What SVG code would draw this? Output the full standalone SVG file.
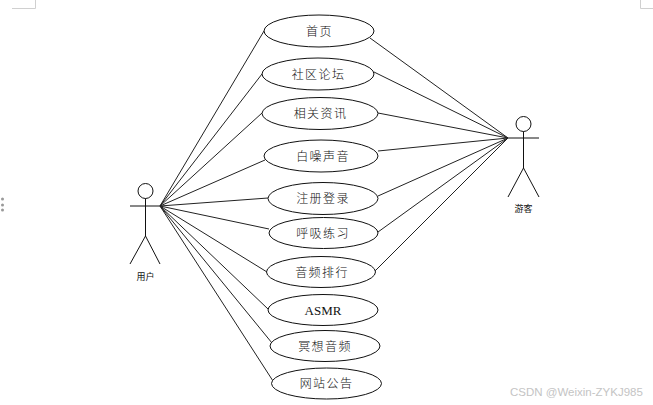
<svg xmlns="http://www.w3.org/2000/svg" width="653" height="405" viewBox="0 0 653 405">
<style>
.bg{fill:#fff}
.u ellipse{fill:#fff;stroke:#111;stroke-width:1}
.u text{font-family:"Noto Sans CJK SC","Liberation Sans",sans-serif;font-size:12px;font-weight:300;letter-spacing:1.4px;text-anchor:middle;fill:#111}
.u text.l{font-family:"Liberation Serif",serif;font-size:13px;font-weight:400;letter-spacing:0}
.a circle{fill:#fff;stroke:#111;stroke-width:1}
.a path{fill:none;stroke:#111;stroke-width:1}
.a text{font-family:"Noto Sans CJK SC","Liberation Sans",sans-serif;font-size:9px;text-anchor:middle;fill:#111}
#connectors path{fill:none;stroke:#222;stroke-width:1}
.m{fill:none;stroke:#d0d0d0;stroke-width:1}
.d{fill:#999}
.w{font-family:"Liberation Sans",sans-serif;font-size:11.5px;fill:#c4c4c4}
</style>
<rect class="bg" width="653" height="405"/>
<path class="m" d="M12 8.500H35.500V0M640.500 0V8.500H653"/>
<circle class="d" cx="2.500" cy="199" r="1.500"/><circle class="d" cx="2.500" cy="205" r="1.500"/><circle class="d" cx="2.500" cy="210" r="1.500"/>
<g id="connectors">
<path d="M160 206L264 31M160 206L262 74M160 206L262 113M160 206L265 160M160 206L268 198M160 206L269 229M160 206L267 272M160 206L268 309M160 206L272 343M160 206L273 381"/>
<path d="M508 138L370 38M508 138L374 72M508 138L378 113M508 138L378 151M508 138L378 196M508 138L378 232M508 138L375 271"/>
</g>
<g id="uc1" class="u"><ellipse cx="319" cy="31" rx="55" ry="16"/><text x="319.500" y="35.500">首页</text></g>
<g id="uc2" class="u"><ellipse cx="318" cy="74" rx="56" ry="16"/><text x="318.500" y="78.500">社区论坛</text></g>
<g id="uc3" class="u"><ellipse cx="320" cy="113.500" rx="58" ry="16"/><text x="320.500" y="118">相关资讯</text></g>
<g id="uc4" class="u"><ellipse cx="321" cy="156" rx="57" ry="16"/><text x="323" y="160.500">白噪声音</text></g>
<g id="uc5" class="u"><ellipse cx="323" cy="198.500" rx="55" ry="16"/><text x="323" y="203">注册登录</text></g>
<g id="uc6" class="u"><ellipse cx="323.500" cy="233" rx="54.500" ry="15.500"/><text x="323" y="237.500">呼吸练习</text></g>
<g id="uc7" class="u"><ellipse cx="321" cy="272" rx="54.500" ry="15.500"/><text x="322" y="276.500">音频排行</text></g>
<g id="uc8" class="u"><ellipse cx="323" cy="310" rx="55" ry="15.500"/><text class="l" x="323" y="315">ASMR</text></g>
<g id="uc9" class="u"><ellipse cx="325" cy="346" rx="55" ry="15.500"/><text x="325" y="350.500">冥想音频</text></g>
<g id="uc10" class="u"><ellipse cx="326.500" cy="383.500" rx="55" ry="15.500"/><text x="326.500" y="388">网站公告</text></g>
<g id="actor-user" class="a"><circle cx="145.500" cy="191" r="7.500"/><path d="M145.500 198.500V236M130 206H160M145.500 236L130 264M145.500 236L160 264"/><text x="145.500" y="280">用户</text></g>
<g id="actor-guest" class="a"><circle cx="523.500" cy="124" r="7.500"/><path d="M523.500 131.500V168M508 138H539M523.500 168L508 197M523.500 168L539 197"/><text x="523.500" y="212">游客</text></g>
<text class="w" x="510" y="395.500">CSDN @Weixin-ZYKJ985</text>
</svg>
